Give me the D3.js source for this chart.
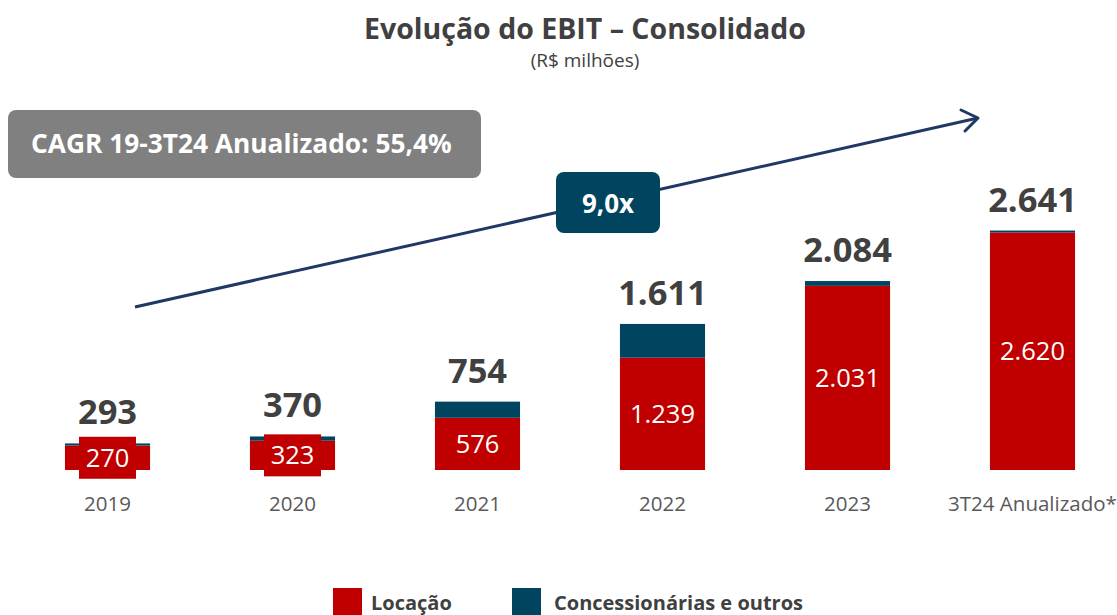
<!DOCTYPE html>
<html>
<head>
<meta charset="utf-8">
<script src="https://cdn.jsdelivr.net/npm/d3@7"></script>
<style>
  body { margin: 0; background: #fff; }
  svg text { font-family: 'Open Sans', 'Noto Sans', sans-serif; }
</style>
</head>
<body>
<div id="chart"></div>
<script>
// data (R$ milhões)
const categories = ['2019', '2020', '2021', '2022', '2023', '3T24 Anualizado*']
const locacao = [270, 323, 576, 1239, 2031, 2620]
const concessionarias = [23, 47, 178, 372, 53, 21]
const totals = [293, 370, 754, 1611, 2084, 2641]

const width = 1117
const height = 615
const red = '#C00000'
const navy = '#00445F'

const pt = d3.formatLocale({ decimal: ',', thousands: '.', grouping: [3], currency: ['R$', ''] })
const fmt = pt.format(',d')

const svg = d3.select('#chart')
  .append('svg')
  .attr('width', width)
  .attr('height', height)

const x = d3.scaleBand()
  .domain(categories)
  .range([15, 1125])
  .paddingInner(0.54)
  .paddingOuter(0.27)

const y = d3.scaleLinear()
  .domain([0, 3000])
  .range([470, 470 - 272])

// title
svg.append('text')
  .text('Evolução do EBIT – Consolidado')
  .attr('x', 585)
  .attr('y', 39)
  .attr('text-anchor', 'middle')
  .attr('font-size', 28.5)
  .attr('font-weight', 'bold')
  .attr('fill', '#404040')

svg.append('text')
  .text('(R$ milhões)')
  .attr('x', 585)
  .attr('y', 67)
  .attr('text-anchor', 'middle')
  .attr('font-size', 19)
  .attr('fill', '#404040')

// growth arrow
svg.append('line')
  .attr('x1', 135)
  .attr('y1', 307)
  .attr('x2', 978)
  .attr('y2', 118)
  .attr('stroke', '#1F3864')
  .attr('stroke-width', 3)

svg.append('path')
  .attr('d', 'M961,110 L978,118 L965,131')
  .attr('fill', 'none')
  .attr('stroke', '#1F3864')
  .attr('stroke-width', 3)
  .attr('stroke-linecap', 'round')
  .attr('stroke-linejoin', 'round')

// 9,0x badge
svg.append('rect')
  .attr('x', 556)
  .attr('y', 172)
  .attr('width', 104)
  .attr('height', 61)
  .attr('rx', 8)
  .attr('fill', navy)

svg.append('text')
  .text('9,0x')
  .attr('x', 608)
  .attr('y', 213)
  .attr('text-anchor', 'middle')
  .attr('font-size', 26)
  .attr('font-weight', 'bold')
  .attr('fill', 'white')

// CAGR box
svg.append('rect')
  .attr('x', 8)
  .attr('y', 110)
  .attr('width', 473)
  .attr('height', 68)
  .attr('rx', 8)
  .attr('fill', '#808080')

svg.append('text')
  .text('CAGR 19-3T24 Anualizado: 55,4%')
  .attr('x', 31)
  .attr('y', 153)
  .attr('font-size', 26.3)
  .attr('font-weight', 'bold')
  .attr('fill', 'white')

// bars
let bars = svg.selectAll('.bar')
  .data(categories)
  .enter()
  .append('g')
  .attr('class', 'bar')

bars.append('rect')
  .attr('x', d => x(d))
  .attr('width', x.bandwidth())
  .attr('y', (d, i) => y(locacao[i]))
  .attr('height', (d, i) => y(0) - y(locacao[i]))
  .attr('fill', red)

bars.append('rect')
  .attr('x', d => x(d))
  .attr('width', x.bandwidth())
  .attr('y', (d, i) => y(locacao[i] + concessionarias[i]))
  .attr('height', (d, i) => y(locacao[i]) - y(locacao[i] + concessionarias[i]))
  .attr('fill', navy)

// label background (shows when bar is too thin)
bars.append('rect')
  .attr('x', d => x(d) + x.bandwidth() / 2 - 28.5)
  .attr('width', 57)
  .attr('y', (d, i) => (y(0) + y(locacao[i])) / 2 - 21)
  .attr('height', 42)
  .attr('fill', red)

bars.append('text')
  .text((d, i) => fmt(locacao[i]))
  .attr('x', d => x(d) + x.bandwidth() / 2)
  .attr('y', (d, i) => (y(0) + y(locacao[i])) / 2 + 9)
  .attr('text-anchor', 'middle')
  .attr('font-size', 25.5)
  .attr('fill', 'white')

bars.append('text')
  .text((d, i) => fmt(totals[i]))
  .attr('x', d => x(d) + x.bandwidth() / 2)
  .attr('y', (d, i) => y(totals[i]) - 19)
  .attr('text-anchor', 'middle')
  .attr('font-size', 34.5)
  .attr('font-weight', 'bold')
  .attr('fill', '#404040')

bars.append('text')
  .text(d => d)
  .attr('x', d => x(d) + x.bandwidth() / 2)
  .attr('y', 511)
  .attr('text-anchor', 'middle')
  .attr('font-size', 20.5)
  .attr('fill', '#595959')

// legend
const legendItems = [
  { label: 'Locação', color: red, x: 333, dx: 38 },
  { label: 'Concessionárias e outros', color: navy, x: 512, dx: 42 }
]

let legend = svg.selectAll('.legend-entry')
  .data(legendItems)
  .enter()
  .append('g')
  .attr('class', 'legend-entry')
  .attr('transform', d => `translate(${d.x},588)`)

legend.append('rect')
  .attr('width', 29)
  .attr('height', 29)
  .attr('fill', d => d.color)

legend.append('text')
  .text(d => d.label)
  .attr('x', d => d.dx)
  .attr('y', 22)
  .attr('font-size', 20)
  .attr('font-weight', 'bold')
  .attr('fill', '#404040')
</script>
</body>
</html>
